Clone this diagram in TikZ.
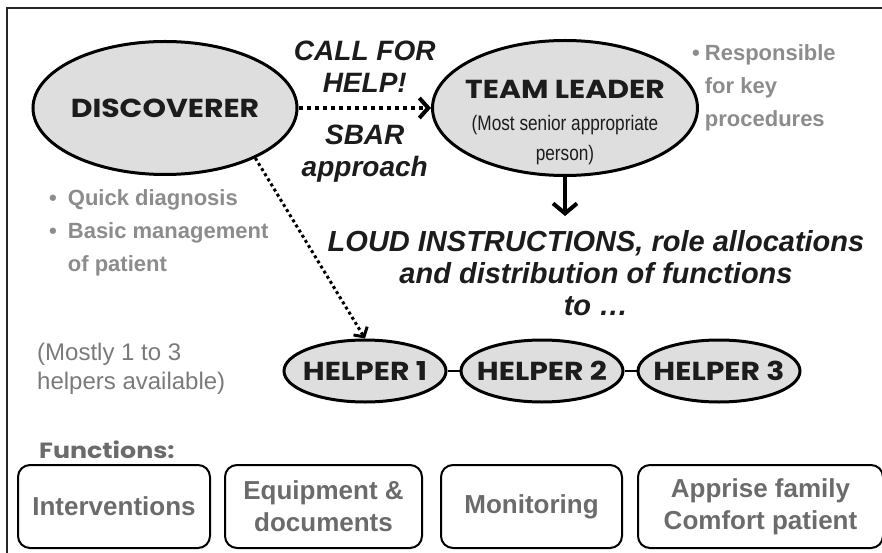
\documentclass[tikz,border=0pt]{standalone}
\usepackage{fontspec}
\setmainfont{Liberation Sans}
\newfontfamily\comicfont{Poppins}[FakeStretch=1.15]
\newfontfamily\narrowfont{Liberation Sans}[FakeStretch=0.82]
\usetikzlibrary{shapes.geometric}
\usetikzlibrary{arrows.meta}
\usetikzlibrary{positioning}
\definecolor{blobfill}{HTML}{DEDEDE}
\definecolor{softgray}{HTML}{8C8C8C}
\definecolor{mutegray}{HTML}{7A7A7A}
\definecolor{boxgray}{HTML}{6B6B6B}
\definecolor{inkblack}{HTML}{1C1C1C}

\begin{document}
\begin{tikzpicture}[x=1pt,y=-1pt,node distance=177pt,
    blob/.style={draw,ellipse,line width=3pt,fill=blobfill,inner xsep=-20pt,inner ysep=0pt,
        font=\comicfont\bfseries\fontsize{26}{30}\selectfont,text=inkblack},
    shout/.style={align=center,inner sep=1pt,text=inkblack,
        font=\bfseries\itshape\fontsize{28}{32}\selectfont},
    note/.style={anchor=north west,inner sep=0pt,text=softgray,
        font=\bfseries\fontsize{22}{33}\selectfont},
    fbox/.style={draw,rounded corners=12pt,line width=2pt,minimum height=83pt,align=center,
        text=boxgray,font=\bfseries\fontsize{26}{32}\selectfont},
    dots/.style={line width=#1,dash pattern=on #1 off #1}]
    \useasboundingbox (0,0) rectangle (882,553);
    \draw [line width=2pt,black!85] (7,553) -- (7,8) -- (882,8);

    \draw node [blob,minimum width=264pt,minimum height=133pt] (disc) at (165,108) {DISCOVERER};
    \draw node [blob,minimum width=265pt,minimum height=135pt,inner xsep=-34pt,
        text height=10pt,text depth=28pt] (lead) at (565,108)
        {\fontsize{21}{30}\selectfont\begin{tabular}[t]{@{}c@{}}
            {\fontsize{26}{30}\selectfont TEAM LEADER}\\[2pt]
            \narrowfont\mdseries (Most senior appropriate\\
            \narrowfont\mdseries person)\end{tabular}};

    \draw node [blob,minimum width=162pt,minimum height=62pt] (h1) at (365,371) {HELPER 1};
    \draw node [blob,minimum width=162pt,minimum height=62pt,right of=h1] (h2) {HELPER 2};
    \draw node [blob,minimum width=162pt,minimum height=62pt,right of=h2] (h3) {HELPER 3};
    \draw [line width=2pt] (h1) -- (h2);
    \draw [line width=2pt] (h2) -- (h3);

    \draw [dots=4pt,-{Straight Barb[length=9pt,width=20pt]}] (disc) --
        node [shout,above=12pt] (call) {CALL FOR\\HELP!}
        node [shout,below=14pt] (sbar) {SBAR\\approach} (lead);
    \draw [dots=3pt,-{Straight Barb[length=7pt,width=16pt]}] (disc.-29) -- (h1.north);

    \coordinate (order) at (565,216);
    \draw [line width=4pt,-{Straight Barb[length=10pt,width=24pt]}] (lead) -- (order);
    \draw node [shout,font=\bfseries\itshape\fontsize{29}{32}\selectfont] (loud) at (596,273)
        {LOUD INSTRUCTIONS, role allocations\\and distribution of functions\\to …};

    \draw node [note] (resp) at (692,37)
        {\begin{tabular}[t]{@{}l@{\hspace{5pt}}l@{}}\textbullet & Responsible\\ & for key\\ & procedures\end{tabular}};
    \draw node [note] (quick) at (49,182)
        {\begin{tabular}[t]{@{}l@{\hspace{11pt}}l@{}}\textbullet & Quick diagnosis\\ \textbullet & Basic management\\ & of patient\end{tabular}};
    \draw node [anchor=north west,inner sep=0pt,text=mutegray,font=\fontsize{24}{29}\selectfont]
        (mostly) at (37,340) {\begin{tabular}[t]{@{}l@{}}(Mostly 1 to 3\\helpers available)\end{tabular}};

    \draw node [anchor=west,inner sep=0pt,text=boxgray,font=\comicfont\bfseries\fontsize{22}{28}\selectfont]
        (fnhead) at (39,450) {Functions:};
    \draw node [fbox,minimum width=192pt] (f1) at (114,506.5) {Interventions};
    \draw node [fbox,minimum width=197pt,right=13pt of f1] (f2) {Equipment \&\\documents};
    \draw node [fbox,minimum width=181pt,right=17pt of f2] (f3) {Monitoring};
    \draw node [fbox,minimum width=245pt,right=14pt of f3] (f4) {Apprise family\\Comfort patient};
\end{tikzpicture}
\end{document}
